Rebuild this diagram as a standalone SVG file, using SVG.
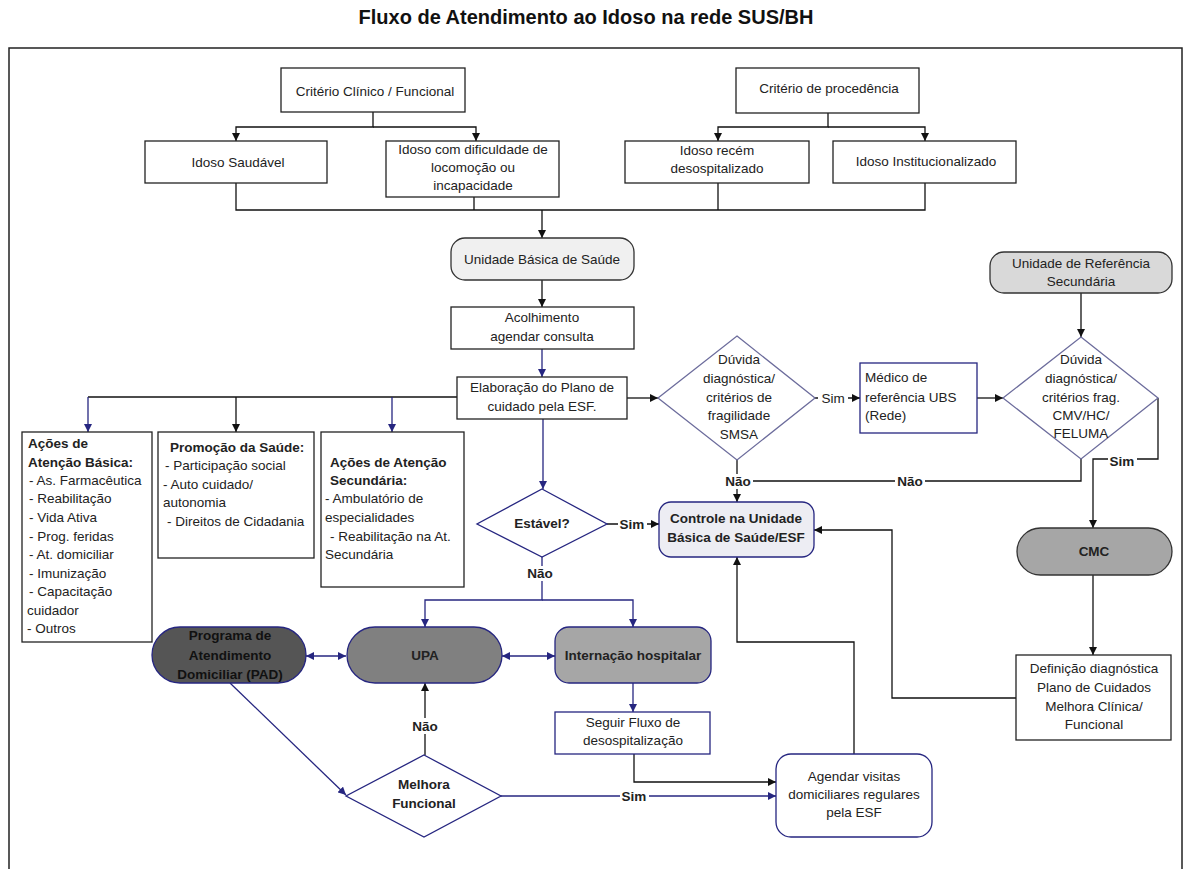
<svg xmlns="http://www.w3.org/2000/svg" width="1184" height="869" viewBox="0 0 1184 869">
<style>
text{font-family:"Liberation Sans",Arial,sans-serif;font-size:13.5px;fill:#222}
.c{text-anchor:middle}
.b{font-weight:bold}
.title{font-size:20px;font-weight:bold;fill:#111}
.box{fill:#fff;stroke:#222;stroke-width:1.3}
.nbox{fill:#fff;stroke:#262680;stroke-width:1.3}
.dia{fill:#fff;stroke:#6c6c9c;stroke-width:1.3}
.ndia{fill:#fff;stroke:#262680;stroke-width:1.3}
.k{fill:none;stroke:#111;stroke-width:1.3}
.n{fill:none;stroke:#262680;stroke-width:1.3}
.ka{marker-end:url(#ak)}
.na{marker-end:url(#an)}
.lbl{fill:#fff}
</style>
<defs>
<marker id="ak" viewBox="0 0 10 10" refX="10" refY="5" markerWidth="8" markerHeight="8" markerUnits="userSpaceOnUse" orient="auto-start-reverse"><path d="M0,0 L10,5 L0,10 z" fill="#111"/></marker>
<marker id="an" viewBox="0 0 10 10" refX="10" refY="5" markerWidth="8" markerHeight="8" markerUnits="userSpaceOnUse" orient="auto-start-reverse"><path d="M0,0 L10,5 L0,10 z" fill="#262680"/></marker>
</defs>
<rect width="1184" height="869" fill="#fff"/>
<text class="title c" x="586" y="24">Fluxo de Atendimento ao Idoso na rede SUS/BH</text>
<rect x="9" y="48" width="1173" height="840" fill="none" stroke="#222" stroke-width="1.5"/>

<g id="connectors">
<path class="k ka" d="M373,112 V127 H236 V141"/>
<path class="k ka" d="M373,127 H476 V141"/>
<path class="k ka" d="M828,113 V127 H718 V141"/>
<path class="k ka" d="M828,127 H925 V141"/>
<path class="k" d="M236,183 V210 H925 V183 M474,197 V210 M718,183 V210"/>
<path class="k ka" d="M542,210 V238"/>
<path class="k ka" d="M542,280 V307"/>
<path class="n na" d="M542,349 V377"/>
<path class="k ka" d="M627,398 H658"/>
<path class="k" d="M457,397 H88"/>
<path class="n na" d="M88,397 V432"/>
<path class="k ka" d="M236,397 V432"/>
<path class="n na" d="M392,397 V432"/>
<path class="n na" d="M543,419 V489"/>
<path class="k ka" d="M607,524 H659"/>
<path class="n na" d="M542,557 V600 H425 V627"/>
<path class="n na" d="M542,600 H633 V627"/>
<path class="k ka" d="M815,398 H860"/>
<path class="k ka" d="M977,398 H1003"/>
<path class="k ka" d="M1081,293 V337"/>
<path class="k ka" d="M1158,398 V459 H1093 V528"/>
<path class="k" d="M1081,459 V481 H737"/>
<path class="k ka" d="M737,460 V502"/>
<path class="k ka" d="M1093,575 V655"/>
<path class="k ka" d="M1016,698 H892 V530 H814"/>
<path class="k ka" d="M854,754 V642 H737 V557"/>
<path class="n na" d="M306,656 H346" marker-start="url(#an)"/>
<path class="n na" d="M502,656 H555" marker-start="url(#an)"/>
<path class="n na" d="M633,683 V712"/>
<path class="k ka" d="M634,754 V782 H776"/>
<path class="n na" d="M501,796 H776"/>
<path class="k ka" d="M425,755 V683"/>
<path class="n na" d="M230,683 L346,795"/>
<rect class="lbl" x="818" y="391" width="30" height="14"/>
<text x="833" y="403" class="c">Sim</text>
<rect class="lbl" x="618" y="517" width="29" height="14"/>
<text x="632" y="529" class="c b">Sim</text>
<rect class="lbl" x="526" y="566" width="29" height="15"/>
<text x="540" y="578" class="c b">Não</text>
<rect class="lbl" x="723" y="474" width="30" height="15"/>
<text x="738" y="486" class="c b">Não</text>
<rect class="lbl" x="895" y="474" width="30" height="15"/>
<text x="910" y="486" class="c b">Não</text>
<rect class="lbl" x="1108" y="454" width="29" height="14"/>
<text x="1122" y="466" class="c b">Sim</text>
<rect class="lbl" x="620" y="789" width="29" height="14"/>
<text x="634" y="801" class="c b">Sim</text>
<rect class="lbl" x="410" y="718" width="30" height="16"/>
<text x="425" y="731" class="c b">Não</text>
</g>

<g id="criterio-clinico"><rect class="box" x="281" y="68" width="184" height="44"/><text class="c" x="375" y="96">Critério Clínico / Funcional</text></g>
<g id="criterio-procedencia"><rect class="box" x="736" y="68" width="183" height="45"/><text class="c" x="829" y="93">Critério de procedência</text></g>
<g id="idoso-saudavel"><rect class="box" x="145" y="141" width="182" height="42"/><text class="c" x="238" y="167">Idoso Saudável</text></g>
<g id="idoso-dificuldade"><rect class="box" x="386" y="141" width="173" height="56"/><text class="c" x="473" y="154">Idoso com dificuldade de</text><text class="c" x="473" y="172">locomoção ou</text><text class="c" x="473" y="190">incapacidade</text></g>
<g id="idoso-recem"><rect class="box" x="625" y="141" width="184" height="42"/><text class="c" x="717" y="155">Idoso recém</text><text class="c" x="717" y="173">desospitalizado</text></g>
<g id="idoso-inst"><rect class="box" x="833" y="141" width="183" height="42"/><text class="c" x="926" y="166">Idoso Institucionalizado</text></g>
<g id="ubs"><rect x="451" y="238" width="183" height="42" rx="14" fill="#f0f0f0" stroke="#333" stroke-width="1.3"/><text class="c" x="542" y="264">Unidade Básica de Saúde</text></g>
<g id="acolhimento"><rect class="box" x="451" y="307" width="183" height="42"/><text class="c" x="542" y="322">Acolhimento</text><text class="c" x="542" y="341">agendar consulta</text></g>
<g id="elaboracao"><rect class="box" x="457" y="377" width="170" height="42"/><text class="c" x="542" y="392">Elaboração do Plano de</text><text class="c" x="542" y="411">cuidado pela ESF.</text></g>
<g id="duvida1"><polygon class="dia" points="737,336 815,398 737,460 658,398"/><text class="c" x="739" y="364">Dúvida</text><text class="c" x="739" y="383">diagnóstica/</text><text class="c" x="739" y="402">critérios de</text><text class="c" x="739" y="420">fragilidade</text><text class="c" x="739" y="439">SMSA</text></g>
<g id="medico"><rect class="nbox" x="860" y="363" width="117" height="70"/><text x="865" y="382">Médico de</text><text x="865" y="402">referência UBS</text><text x="865" y="420">(Rede)</text></g>
<g id="unid-ref"><rect x="990" y="252" width="182" height="41" rx="14" fill="#d9d9d9" stroke="#333" stroke-width="1.3"/><text class="c" x="1081" y="268">Unidade de Referência</text><text class="c" x="1081" y="286">Secundária</text></g>
<g id="duvida2"><polygon class="dia" points="1081,337 1158,398 1081,459 1003,398"/><text class="c" x="1081" y="364">Dúvida</text><text class="c" x="1081" y="383">diagnóstica/</text><text class="c" x="1081" y="402">critérios frag.</text><text class="c" x="1081" y="420">CMV/HC/</text><text class="c" x="1081" y="438">FELUMA</text></g>
<g id="acoes-basica"><rect class="box" x="22" y="432" width="130" height="210"/><text class="b" x="28" y="448">Ações de</text><text class="b" x="28" y="467">Atenção Básica:</text><text x="29" y="485">- As. Farmacêutica</text><text x="29" y="503">- Reabilitação</text><text x="29" y="522">- Vida Ativa</text><text x="29" y="541">- Prog. feridas</text><text x="29" y="559">- At. domiciliar</text><text x="29" y="578">- Imunização</text><text x="29" y="596">- Capacitação</text><text x="27" y="615">cuidador</text><text x="27" y="633">- Outros</text></g>
<g id="promocao"><rect class="box" x="158" y="432" width="156" height="126"/><text class="b" x="170" y="452">Promoção da Saúde:</text><text x="165" y="470">- Participação social</text><text x="163" y="489">- Auto cuidado/</text><text x="163" y="507">autonomia</text><text x="167" y="526">- Direitos de Cidadania</text></g>
<g id="acoes-secundaria"><rect class="box" x="321" y="432" width="143" height="155"/><text class="b" x="330" y="467">Ações de Atenção</text><text class="b" x="330" y="485">Secundária:</text><text x="325" y="503">- Ambulatório de</text><text x="325" y="522">especialidades</text><text x="330" y="541">- Reabilitação na At.</text><text x="325" y="559">Secundária</text></g>
<g id="estavel"><polygon class="ndia" points="542,489 607,524 542,557 477,524"/><text class="c b" x="542" y="528">Estável?</text></g>
<g id="controle"><rect x="659" y="502" width="155" height="55" rx="12" fill="#ededf3" stroke="#262680" stroke-width="1.3"/><text class="c b" x="736" y="523">Controle na Unidade</text><text class="c b" x="736" y="542">Básica de Saúde/ESF</text></g>
<g id="cmc"><rect x="1017" y="528" width="155" height="47" rx="23.5" fill="#a6a6a6" stroke="#333" stroke-width="1.3"/><text class="c b" x="1094" y="556">CMC</text></g>
<g id="definicao"><rect class="box" x="1016" y="655" width="155" height="85"/><text class="c" x="1094" y="673">Definição diagnóstica</text><text class="c" x="1094" y="692">Plano de Cuidados</text><text class="c" x="1094" y="711">Melhora Clínica/</text><text class="c" x="1094" y="729">Funcional</text></g>
<g id="pad"><rect x="152" y="627" width="154" height="56" rx="28" fill="#555" stroke="#262680" stroke-width="1.3"/><text class="c b" x="230" y="640" style="fill:#111">Programa de</text><text class="c b" x="230" y="660" style="fill:#111">Atendimento</text><text class="c b" x="230" y="679" style="fill:#111">Domiciliar (PAD)</text></g>
<g id="upa"><rect x="347" y="627" width="155" height="56" rx="28" fill="#808080" stroke="#262680" stroke-width="1.3"/><text class="c b" x="425" y="660">UPA</text></g>
<g id="internacao"><rect x="555" y="627" width="156" height="56" rx="14" fill="#a6a6a6" stroke="#262680" stroke-width="1.3"/><text class="c b" x="633" y="660">Internação hospitalar</text></g>
<g id="seguir"><rect class="nbox" x="555" y="712" width="155" height="42"/><text class="c" x="633" y="727">Seguir Fluxo de</text><text class="c" x="633" y="745">desospitalização</text></g>
<g id="agendar"><rect class="nbox" x="776" y="754" width="156" height="83" rx="15"/><text class="c" x="854" y="781">Agendar visitas</text><text class="c" x="854" y="799">domiciliares regulares</text><text class="c" x="854" y="817">pela ESF</text></g>
<g id="melhora"><polygon class="ndia" points="424,755 501,796 424,837 346,796"/><text class="c b" x="424" y="789">Melhora</text><text class="c b" x="424" y="808">Funcional</text></g>
</svg>
